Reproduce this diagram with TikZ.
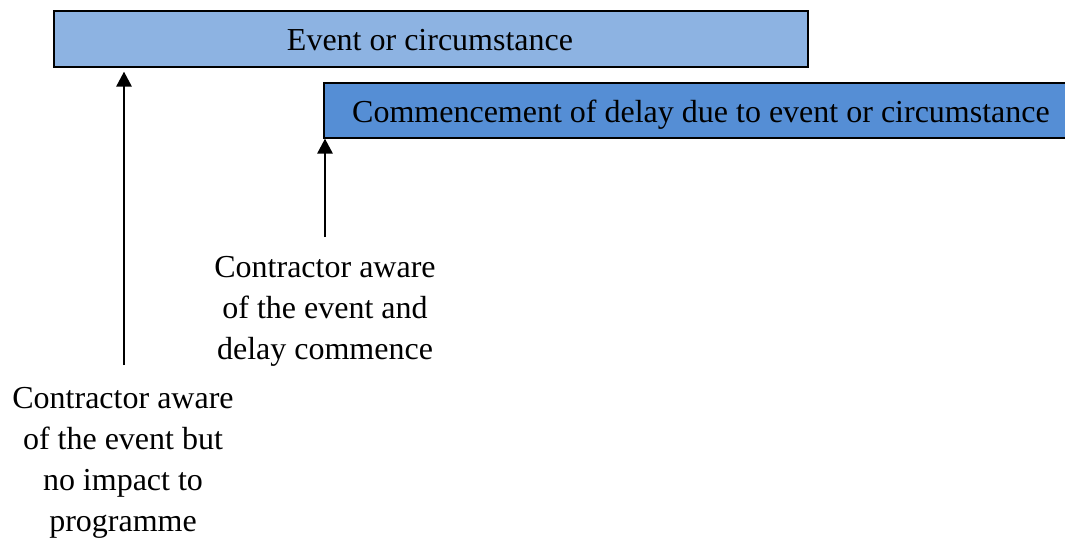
\documentclass[tikz,border=0pt]{standalone}
\usepackage{fontspec}
\setmainfont{Liberation Serif}
\usetikzlibrary{arrows.meta}
\definecolor{lightbar}{HTML}{8DB3E2}
\definecolor{darkbar}{HTML}{558ED5}
\tikzset{
  bar/.style={draw=black, line width=1.6pt, inner sep=0pt, anchor=north west},
  txt/.style={font=\fontsize{32}{41}\selectfont, inner sep=0pt, text=black},
  label/.style={txt, align=center, anchor=base},
  arr/.style={line width=2.8pt, -{Triangle[width=15pt,length=15pt]}}
}
\begin{document}
\begin{tikzpicture}[x=1pt, y=-1pt]
  \useasboundingbox (0,0) rectangle (1065,542);
  \clip (0,0) rectangle (1065,542);

  % bars
  \node[bar, fill=lightbar, minimum width=754pt, minimum height=56pt] (event) at (53,10) {};
  \node[txt, anchor=base] (eventtxt) at (430,50) {Event or circumstance};
  \node[bar, fill=darkbar, minimum width=770pt, minimum height=55pt] (delay) at (323,82) {};
  \node[txt, anchor=base west] (delaytxt) at (352,122) {Commencement of delay due to event or circumstance};

  % labels below the bars (base = baseline of the last line)
  \node[label] (lab1) at (123,531) {Contractor aware\\of the event but\\no impact to\\programme};
  \node[label] (lab2) at (325,359) {Contractor aware\\of the event and\\delay commence};

  % arrows
  \coordinate (s1) at (124,365);
  \coordinate (s2) at (325,237);
  \draw[arr, shorten >=4pt] (s1) -- (s1 |- event.south);
  \draw[arr] (s2) -- (s2 |- delay.south);
\end{tikzpicture}
\end{document}
